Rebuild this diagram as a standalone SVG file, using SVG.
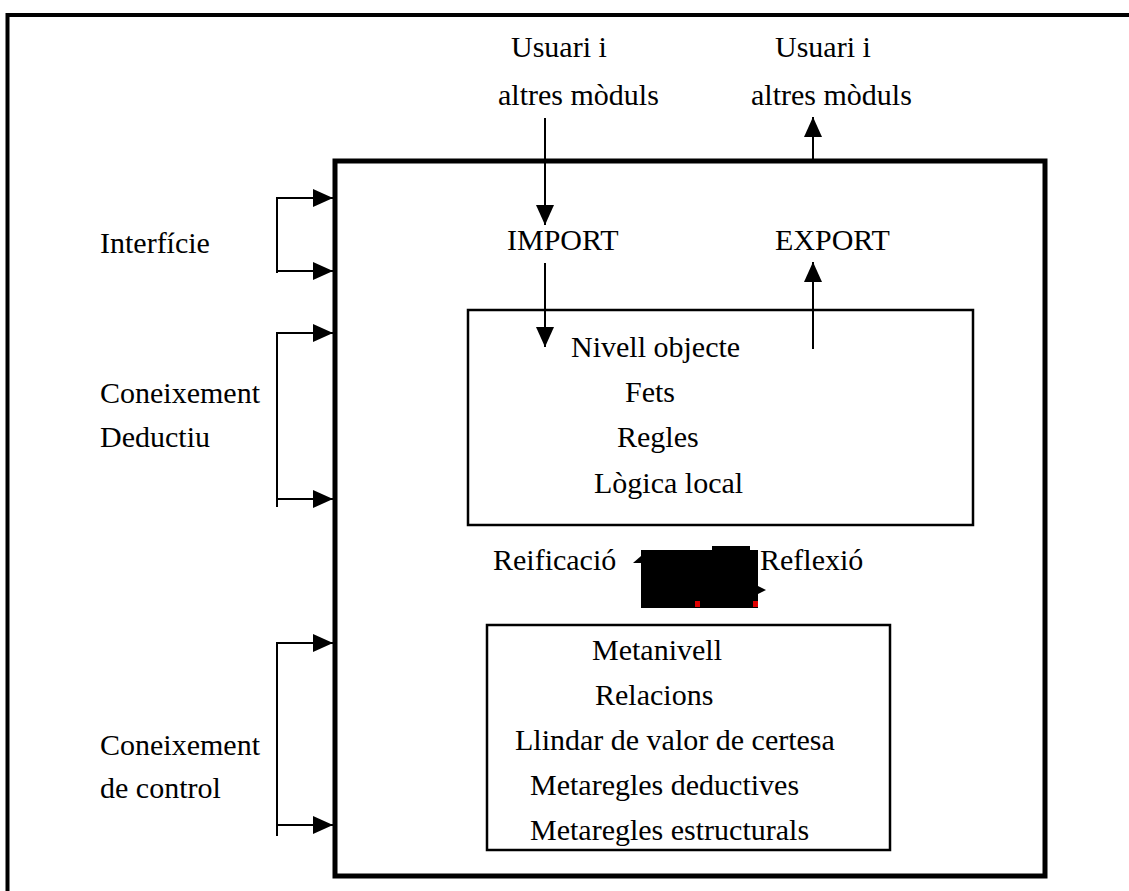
<svg xmlns="http://www.w3.org/2000/svg" width="1129" height="891" viewBox="0 0 1129 891" font-family="'Liberation Serif', 'Times New Roman', 'DejaVu Serif', serif" font-size="30">
<style>
.thin{stroke:#000;stroke-width:2;fill:none}
.box{stroke:#000;stroke-width:2.5;fill:none}
</style>
<defs>
<marker id="ah" viewBox="0 0 20 18" refX="20" refY="9" markerWidth="20" markerHeight="18" markerUnits="userSpaceOnUse" orient="auto">
<path d="M0,0 L20,9 L0,18 Z" fill="#000"/>
</marker>
</defs>
<rect width="1129" height="891" fill="#fff"/>
<g id="frame">
<path d="M7.5,891 V15 H1129" stroke="#000" stroke-width="4" fill="none"/>
</g>
<g id="module">
<rect x="335" y="161" width="710" height="715" stroke="#000" stroke-width="5" fill="none"/>
</g>
<g id="user-in"><text x="511" y="57">Usuari i</text><text x="498" y="105">altres mòduls</text></g>
<g id="user-out"><text x="775" y="57">Usuari i</text><text x="751" y="105">altres mòduls</text></g>
<g id="import"><text x="507" y="250">IMPORT</text></g>
<g id="export"><text x="775" y="250">EXPORT</text></g>
<g id="interficie"><text x="100" y="253">Interfície</text></g>
<g id="deductiu"><text x="100" y="403">Coneixement</text><text x="100" y="447">Deductiu</text></g>
<g id="control"><text x="100" y="755">Coneixement</text><text x="100" y="798">de control</text></g>
<g id="nivell-objecte">
<rect x="468" y="310" width="505" height="215" class="box"/>
<text x="571" y="357">Nivell objecte</text>
<text x="625" y="402">Fets</text>
<text x="617" y="447">Regles</text>
<text x="594" y="493">Lògica local</text>
</g>
<g id="metanivell">
<rect x="487" y="625" width="403" height="225" class="box"/>
<text x="592" y="660">Metanivell</text>
<text x="595" y="705">Relacions</text>
<text x="515" y="750">Llindar de valor de certesa</text>
<text x="530" y="795">Metaregles deductives</text>
<text x="530" y="840">Metaregles estructurals</text>
</g>
<g id="reificacio"><text x="493" y="570">Reificació</text></g>
<g id="reflexio"><text x="760" y="570">Reflexió</text></g>
<g id="reflection-blob">
<path d="M641,550 H712 V546 H750 V550 H758 V608 H641 Z" fill="#000"/>
<path d="M641,556 L633,563 L641,563 Z" fill="#000"/>
<path d="M758,586 L766,590 L758,594 Z" fill="#000"/>
<rect x="695" y="601" width="5" height="6" fill="#e00000"/>
<rect x="753" y="601" width="5" height="6" fill="#e00000"/>
</g>
<g id="connectors">
<line x1="545" y1="118" x2="545" y2="225" class="thin" marker-end="url(#ah)"/>
<line x1="545" y1="263" x2="545" y2="347" class="thin" marker-end="url(#ah)"/>
<line x1="813" y1="161" x2="813" y2="117" class="thin" marker-end="url(#ah)"/>
<line x1="813" y1="349" x2="813" y2="262" class="thin" marker-end="url(#ah)"/>
<path d="M277,273 V198 H333" class="thin" marker-end="url(#ah)"/>
<line x1="277" y1="271" x2="333" y2="271" class="thin" marker-end="url(#ah)"/>
<path d="M277,507 V333 H333" class="thin" marker-end="url(#ah)"/>
<line x1="277" y1="499" x2="333" y2="499" class="thin" marker-end="url(#ah)"/>
<path d="M277,836 V643 H333" class="thin" marker-end="url(#ah)"/>
<line x1="277" y1="825" x2="333" y2="825" class="thin" marker-end="url(#ah)"/>
</g>
</svg>
